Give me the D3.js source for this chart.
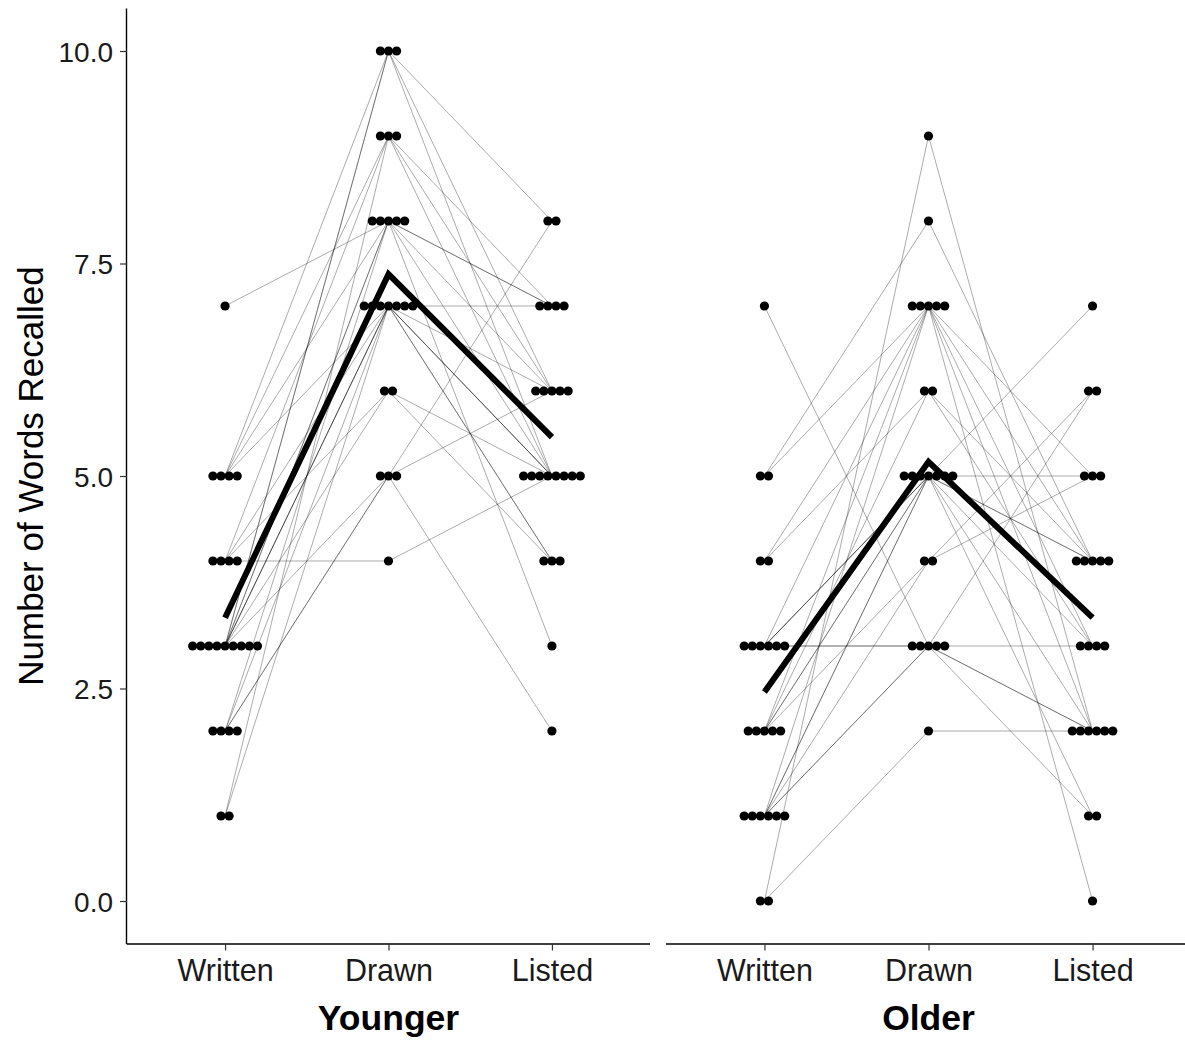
<!DOCTYPE html>
<html>
<head>
<meta charset="utf-8">
<script src="https://cdn.jsdelivr.net/npm/d3@7"></script>
<style>
  html, body { margin: 0; padding: 0; background: #fff; }
  svg { display: block; font-family: "Liberation Sans", Arial, sans-serif; }
</style>
</head>
<body>
<svg id="chart" width="1185" height="1042"></svg>
<script>
// ---- data ----
const categories = ["Written", "Drawn", "Listed"];
const groups = ["Younger", "Older"];
const yTicks = [0, 2.5, 5, 7.5, 10];
const yTitle = "Number of Words Recalled";

// one entry per participant, same order in each array
const youngerWritten = [7,4,2,3,2,3,4,3,5,3,5,4,1,3,2,3,5,3,5,4,3,1,2,3];
const youngerDrawn   = [8,4,5,5,5,6,6,10,10,10,9,9,9,8,8,8,8,7,7,7,7,7,7,7];
const youngerListed  = [7,5,6,2,8,4,5,8,6,5,7,5,6,7,5,6,3,7,5,4,5,6,4,5];

const olderWritten = [0,0,5,7,3,1,3,1,5,2,1,3,1,3,4,2,4,2,3,3,1,2,2,1];
const olderDrawn   = [9,2,8,3,3,5,5,7,7,4,3,3,3,7,7,7,6,6,5,5,5,5,5,4];
const olderListed  = [2,2,4,3,1,7,5,0,3,6,6,2,2,4,2,5,3,4,2,4,4,3,1,5];

const panelData = {
  Younger: [youngerWritten, youngerDrawn, youngerListed],
  Older:   [olderWritten, olderDrawn, olderListed]
};

// ---- layout ----
const svg = d3.select("#chart");
const plotTop = 8.5, plotBottom = 943.5;
const panelRanges = { Younger: [127, 650], Older: [666, 1191] };
const dotR = 4.6, dotStep = 8.1;

const y = d3.scaleLinear().domain([-0.5, 10.5]).range([plotBottom, plotTop]);

groups.forEach(g => {
  const x = d3.scalePoint().domain(categories).range(panelRanges[g]).padding(0.6);
  const cols = panelData[g];
  const n = cols[0].length;
  const root = svg.append("g");

  // participant lines
  const participants = d3.range(n).map(i => categories.map((c, k) => ({ cat: c, v: cols[k][i] })));
  const line = d3.line().x(d => x(d.cat)).y(d => y(d.v));
  root.append("g").selectAll("path").data(participants).join("path")
    .attr("d", line)
    .attr("fill", "none")
    .attr("stroke", "#000")
    .attr("stroke-opacity", 0.33)
    .attr("stroke-width", 1);

  // dots (centered stacks)
  const dots = [];
  categories.forEach((c, k) => {
    const counts = d3.rollup(cols[k], v => v.length, d => d);
    counts.forEach((cnt, val) => {
      for (let j = 0; j < cnt; j++) {
        dots.push({ cx: x(c) + (j - (cnt - 1) / 2) * dotStep, v: val });
      }
    });
  });
  root.append("g").selectAll("circle").data(dots).join("circle")
    .attr("cx", d => d.cx)
    .attr("cy", d => y(d.v))
    .attr("r", dotR)
    .attr("fill", "#000");

  // mean line
  const means = categories.map((c, k) => ({ cat: c, v: d3.mean(cols[k]) }));
  root.append("path").datum(means)
    .attr("d", line)
    .attr("fill", "none")
    .attr("stroke", "#000")
    .attr("stroke-width", 6)
    .attr("stroke-linejoin", "miter");

  // x axis
  const xAxis = root.append("g")
    .attr("transform", `translate(0,${plotBottom})`)
    .call(d3.axisBottom(x).tickSize(7).tickPadding(9).tickSizeOuter(0));
  xAxis.select(".domain").attr("stroke", "#000").attr("stroke-width", 1.4)
    .attr("d", `M${panelRanges[g][0]},0.5H${Math.min(panelRanges[g][1], 1185)}`);
  xAxis.selectAll(".tick line").attr("stroke", "#333").attr("stroke-width", 1.2);
  xAxis.selectAll(".tick text")
    .attr("fill", "#1a1a1a")
    .attr("font-size", 30.5)
    .attr("dy", null)
    .attr("y", 37);

  // panel label
  root.append("text")
    .attr("x", (x("Written") + x("Listed")) / 2)
    .attr("y", 1030)
    .attr("text-anchor", "middle")
    .attr("font-size", 35.5)
    .attr("font-weight", "bold")
    .attr("fill", "#000")
    .text(g);

  if (g === "Younger") {
    const yAxis = svg.append("g")
      .attr("transform", `translate(127,0)`)
      .call(d3.axisLeft(y).tickValues(yTicks).tickFormat(d3.format(".1f")).tickSize(7).tickPadding(7).tickSizeOuter(0));
    yAxis.select(".domain").attr("stroke", "#000").attr("stroke-width", 1.4)
      .attr("d", `M-0.5,${plotTop}V${plotBottom + 0.7}`);
    yAxis.selectAll(".tick line").attr("stroke", "#333").attr("stroke-width", 1.2);
    yAxis.selectAll(".tick text")
      .attr("fill", "#1a1a1a")
      .attr("font-size", 28)
      .attr("dy", "0.36em");
  }
});

svg.append("text")
  .attr("transform", `translate(43,${(plotTop + plotBottom) / 2}) rotate(-90)`)
  .attr("text-anchor", "middle")
  .attr("font-size", 35)
  .attr("fill", "#000")
  .text(yTitle);
</script>
</body>
</html>
